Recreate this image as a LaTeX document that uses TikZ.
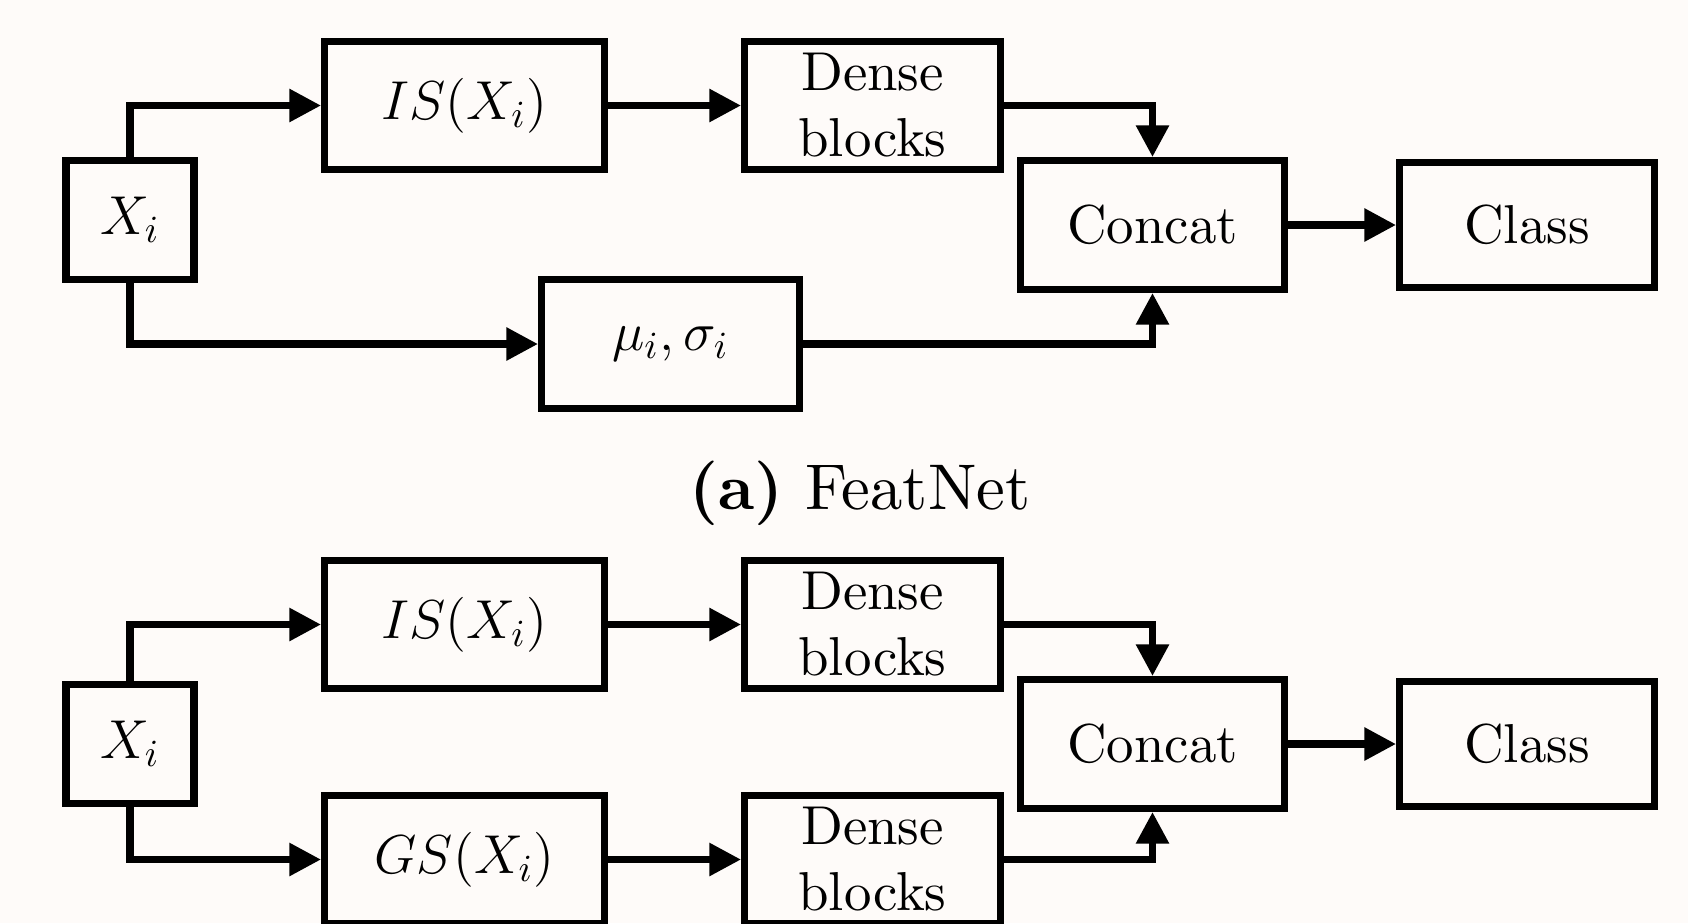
\RequirePackage{fix-cm}
\documentclass[tikz,border=0pt]{standalone}
\usepackage{fontspec}
\setmainfont{lmroman10-regular.otf}[BoldFont=lmroman10-bold.otf, ItalicFont=lmroman10-italic.otf]
\usetikzlibrary{arrows.meta}
\definecolor{paper}{RGB}{254,251,249}

\begin{document}
\begin{tikzpicture}[
        blk/.style={draw, line width=2pt, fill=paper, inner sep=0pt, align=center,
            font=\fontsize{15.6}{18.8}\selectfont},
        link/.style={line width=2pt, -{Triangle[length=9pt, width=9pt]}},
    ]
        \useasboundingbox (0,0) rectangle (16.88,-9.23);
        \fill[paper] (0,0) rectangle (16.88,-9.23);

        % (a) FeatNet
        \node[blk, minimum width=1.28cm, minimum height=1.19cm] (xa) at (1.30,-2.20) {$X_i$};
        \node[blk, minimum width=2.80cm, minimum height=1.28cm] (isa) at (4.645,-1.055) {$IS(X_i)$};
        \node[blk, minimum width=2.56cm, minimum height=1.28cm] (densea) at (8.725,-1.055) {Dense\\blocks};
        \node[blk, minimum width=2.58cm, minimum height=1.29cm] (mua) at (6.705,-3.44) {$\mu_i, \sigma_i$};
        \node[blk, minimum width=2.64cm, minimum height=1.29cm] (cata) at (11.525,-2.25) {Concat};
        \node[blk, minimum width=2.55cm, minimum height=1.25cm] (classa) at (15.27,-2.25) {Class};

        \draw[link] (xa.north) |- (isa.west);
        \draw[link] (xa.south) |- (mua.west);
        \draw[link] (isa) -- (densea);
        \draw[link] (densea.east) -| (cata.north);
        \draw[link] (mua.east) -| (cata.south);
        \draw[link] (cata) -- (classa);

        \node[font=\fontsize{18.4}{22}\selectfont] (capa) at (8.60,-4.93) {\textbf{(a)} FeatNet};

        % (b)
        \node[blk, minimum width=1.28cm, minimum height=1.19cm] (xb) at (1.30,-7.44) {$X_i$};
        \node[blk, minimum width=2.80cm, minimum height=1.28cm] (isb) at (4.645,-6.245) {$IS(X_i)$};
        \node[blk, minimum width=2.56cm, minimum height=1.28cm] (denseb) at (8.725,-6.245) {Dense\\blocks};
        \node[blk, minimum width=2.80cm, minimum height=1.28cm] (gsb) at (4.645,-8.595) {$GS(X_i)$};
        \node[blk, minimum width=2.56cm, minimum height=1.28cm] (densec) at (8.725,-8.595) {Dense\\blocks};
        \node[blk, minimum width=2.64cm, minimum height=1.29cm] (catb) at (11.525,-7.44) {Concat};
        \node[blk, minimum width=2.55cm, minimum height=1.25cm] (classb) at (15.27,-7.44) {Class};

        \draw[link] (xb.north) |- (isb.west);
        \draw[link] (xb.south) |- (gsb.west);
        \draw[link] (isb) -- (denseb);
        \draw[link] (gsb) -- (densec);
        \draw[link] (denseb.east) -| (catb.north);
        \draw[link] (densec.east) -| (catb.south);
        \draw[link] (catb) -- (classb);
    \end{tikzpicture}
\end{document}
